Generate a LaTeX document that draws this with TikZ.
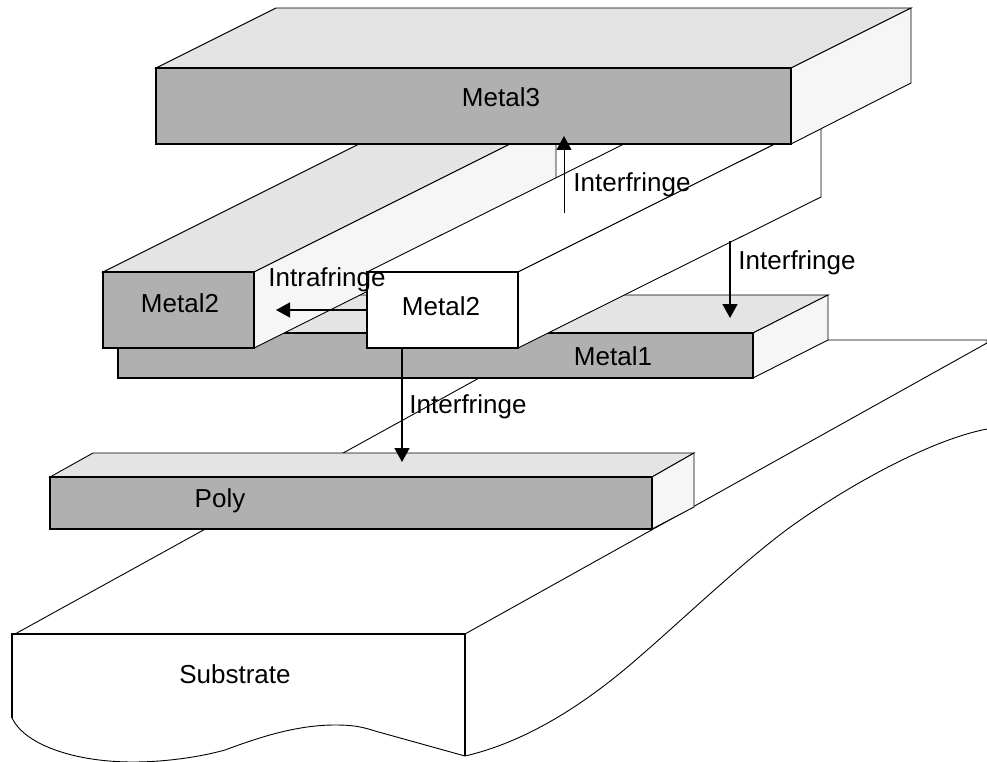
\documentclass[tikz,border=0pt]{standalone}
\usepackage{fontspec}
\setmainfont{Liberation Sans}
\usetikzlibrary{arrows.meta}
\definecolor{frontgray}{HTML}{B0B0B0}
\definecolor{topgray}{HTML}{E4E4E4}
\definecolor{sidegray}{HTML}{F6F6F6}
\tikzset{
  x=1pt,y=-1pt,
  thinline/.style={draw=black,line width=0.9pt,line join=miter},
  frontface/.style={draw=black,line width=1.8pt,line join=miter},
  lbl/.style={anchor=base,inner sep=0pt,outer sep=0pt,font=\fontsize{26}{30}\selectfont,text=black},
  thickarrow/.style={line width=1.6pt,-{Triangle[length=14pt,width=15pt]}},
  thinarrow/.style={line width=1pt,-{Triangle[length=14pt,width=15pt]}},
}
\begin{document}
\begin{tikzpicture}
\useasboundingbox (0,0) rectangle (987,762);
% Substrate
\filldraw[thinline,fill=white] (15,634) -- (548,340) -- (987,340) -- (987,343) -- (465,634) -- cycle;
\draw[thinline] (465,756) .. controls (530,741) and (590,700) .. (638,658)
  .. controls (680,622) and (750,555) .. (796,523)
  .. controls (850,485) and (930,440) .. (987,429);
\draw[frontface] (12,718) -- (12,634) -- (465,634) -- (465,756);
\draw[thinline] (12,718) .. controls (25,745) and (75,762) .. (133,762)
  .. controls (165,762) and (200,757) .. (225,750)
  .. controls (265,735) and (300,725) .. (335,725)
  .. controls (350,725) and (360,726) .. (375,731) -- (465,756);
% Metal1
\filldraw[thinline,fill=topgray] (118,333) -- (193,295) -- (828,295) -- (753,333) -- cycle;
\filldraw[thinline,fill=sidegray] (753,333) -- (828,295) -- (828,340) -- (753,378) -- cycle;
\filldraw[frontface,fill=frontgray] (118,333) rectangle (753,378);
% Poly
\filldraw[thinline,fill=topgray] (50,477) -- (93,453) -- (694,453) -- (652,477) -- cycle;
\filldraw[thinline,fill=sidegray] (652,477) -- (694,453) -- (694,507) -- (652,529) -- cycle;
\filldraw[frontface,fill=frontgray] (50,477) rectangle (652,529);
% Left Metal2
\filldraw[thinline,fill=topgray] (103,272) -- (405,121) -- (556,121) -- (254,272) -- cycle;
\filldraw[thinline,fill=sidegray] (254,272) -- (556,121) -- (556,197) -- (254,348) -- cycle;
\filldraw[frontface,fill=frontgray] (103,272) rectangle (254,348);
% White Metal2
\filldraw[thinline,fill=white] (367,272) -- (670,121) -- (821,121) -- (518,272) -- cycle;
\filldraw[thinline,fill=white] (518,272) -- (821,121) -- (821,197) -- (518,348) -- cycle;
\filldraw[frontface,fill=white] (367,272) rectangle (518,348);
% Metal3
\filldraw[thinline,fill=topgray] (156,68) -- (276,8) -- (911,8) -- (791,68) -- cycle;
\filldraw[thinline,fill=sidegray] (791,68) -- (911,8) -- (911,83) -- (791,144) -- cycle;
\filldraw[frontface,fill=frontgray] (156,68) rectangle (791,144);
% Arrow ends
\coordinate (upstart) at (564,213);
\coordinate (uptip) at (564,136);
\coordinate (rstart) at (730,241);
\coordinate (rtip) at (730,318);
\coordinate (cstart) at (402,348);
\coordinate (ctip) at (402,462);
\coordinate (lstart) at (367,310);
\coordinate (ltip) at (276,310);
\draw[thinarrow] (upstart) -- (uptip);
\draw[thickarrow] (rstart) -- (rtip);
\draw[thickarrow] (cstart) -- (ctip);
\draw[thickarrow] (lstart) -- (ltip);
% Labels
\node[lbl] (m3) at (501,107) {Metal3};
\node[lbl] (m2l) at (180,312) {Metal2};
\node[lbl] (m2r) at (441,315) {Metal2};
\node[lbl] (m1) at (613,365) {Metal1};
\node[lbl] (poly) at (220,507) {Poly};
\node[lbl] (sub) at (235,683) {Substrate};
\node[lbl] (intra) at (327,286) {Intrafringe};
\node[lbl] (i1) at (632,192) {Interfringe};
\node[lbl] (i2) at (797,269) {Interfringe};
\node[lbl] (i3) at (468,413) {Interfringe};
\end{tikzpicture}
\end{document}
